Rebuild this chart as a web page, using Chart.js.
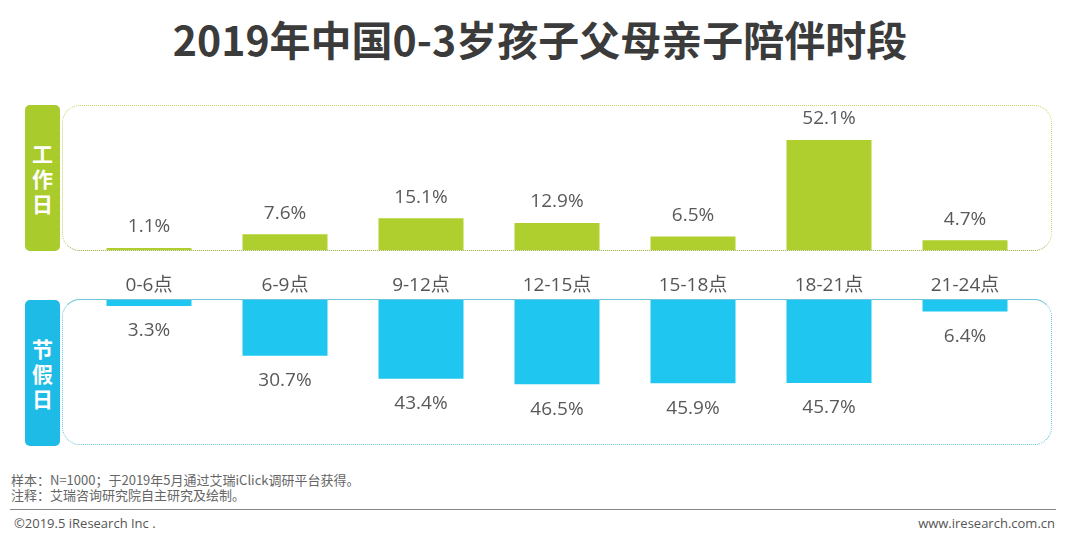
<!DOCTYPE html>
<html>
<head>
<meta charset="utf-8">
<script src="https://cdn.jsdelivr.net/npm/chart.js@4.4.1/dist/chart.umd.min.js"></script>
<style>
  body { margin: 0; width: 1080px; height: 537px; background: #fff; position: relative; overflow: hidden;
         font-family: "Noto Sans CJK SC", "Noto Sans", sans-serif; }
  #title { position: absolute; left: 0; width: 1080px; top: 8px; text-align: center;
           font-size: 41px; font-weight: bold; color: #3b3b3b; }
  .tag { position: absolute; left: 25px; width: 35px; border-radius: 5px; color: #fff; font-weight: bold;
         font-size: 21px; line-height: 25px; display: flex; align-items: center; justify-content: center;
         text-align: center; }
  .tag span { display: block; width: 22px; }
  #tagWork { top: 105px; height: 146px; background: #a9cb2b; }
  #tagHol { top: 300px; height: 146px; background: #1ebbe6; }
  .panel { position: absolute; left: 62px; width: 990px; border-radius: 18px; box-sizing: border-box; }
  #panelWork { top: 105px; height: 146px; border: 1.5px dotted #c5d86a; border-bottom: 1.5px dotted #8fa63a; }
  #panelHol { top: 299px; height: 146px; border: 1.5px dotted #66c3d6; border-top: 1.5px solid #6cc5d6; }
  #c1wrap { position: absolute; left: 62px; top: 100px; width: 990px; height: 221px; }
  #c2wrap { position: absolute; left: 62px; top: 300px; width: 990px; height: 146px; }
  .note { position: absolute; left: 11px; font-size: 13px; color: #666; line-height: 15px; }
  #rule { position: absolute; left: 10px; width: 1046px; top: 509px; height: 0; border-top: 1.5px solid #888; }
  .foot { position: absolute; top: 514px; font-size: 13px; color: #555; font-family: "Open Sans", "Noto Sans", sans-serif; }
</style>
</head>
<body>
<div id="title">2019年中国0-3岁孩子父母亲子陪伴时段</div>
<div class="panel" id="panelWork"></div>
<div class="panel" id="panelHol"></div>
<div class="tag" id="tagWork"><span>工作日</span></div>
<div class="tag" id="tagHol"><span>节假日</span></div>
<div id="c1wrap"><canvas id="workChart"></canvas></div>
<div id="c2wrap"><canvas id="holChart"></canvas></div>
<div class="note" style="top:472px">样本：N=1000；于2019年5月通过艾瑞iClick调研平台获得。</div>
<div class="note" style="top:487px">注释：艾瑞咨询研究院自主研究及绘制。</div>
<div id="rule"></div>
<div class="foot" style="left:14px">©2019.5 iResearch Inc .</div>
<div class="foot" style="right:25px">www.iresearch.com.cn</div>
<script>
const periods = ["0-6点", "6-9点", "9-12点", "12-15点", "15-18点", "18-21点", "21-24点"];
const workday = [1.1, 7.6, 15.1, 12.9, 6.5, 52.1, 4.7];
const holiday = [3.3, 30.7, 43.4, 46.5, 45.9, 45.7, 6.4];

const labelFont = '19px "Open Sans", "Noto Sans", sans-serif';

// value labels above (workday) or below (holiday) each bar
function valueLabels(offset) {
  return {
    id: "valueLabels",
    afterDatasetsDraw(chart) {
      const ctx = chart.ctx;
      const meta = chart.getDatasetMeta(0);
      const data = chart.data.datasets[0].data;
      ctx.save();
      ctx.font = labelFont;
      ctx.fillStyle = "#595959";
      ctx.textAlign = "center";
      ctx.textBaseline = "middle";
      meta.data.forEach((bar, i) => {
        ctx.fillText(data[i].toFixed(1) + "%", bar.x, bar.y + offset);
      });
      ctx.restore();
    }
  };
}

function baseOptions() {
  return {
    responsive: true,
    maintainAspectRatio: false,
    animation: false,
    layout: { padding: { left: 19, right: 19, top: 0, bottom: 0 } },
    plugins: { legend: { display: false }, tooltip: { enabled: false } }
  };
}

const opt1 = baseOptions();
opt1.layout.padding.top = 5;
opt1.scales = {
  x: {
    grid: { display: false, drawTicks: false },
    border: { display: false },
    ticks: { color: "#555", font: { size: 19, family: '"Open Sans", "Noto Sans CJK SC", sans-serif' }, padding: 24 }
  },
  y: { display: false, min: 0, max: 68.7 }
};
new Chart(document.getElementById("workChart"), {
  type: "bar",
  data: {
    labels: periods,
    datasets: [{ data: workday, backgroundColor: "#aecf2e", barPercentage: 0.625, categoryPercentage: 1 }]
  },
  options: opt1,
  plugins: [valueLabels(-21)]
});

const opt2 = baseOptions();
opt2.scales = {
  x: { display: false },
  y: { display: false, min: 0, max: 80.5, reverse: true }
};
new Chart(document.getElementById("holChart"), {
  type: "bar",
  data: {
    labels: periods,
    datasets: [{ data: holiday, backgroundColor: "#1fc7f0", barPercentage: 0.625, categoryPercentage: 1 }]
  },
  options: opt2,
  plugins: [valueLabels(25)]
});
</script>
</body>
</html>
